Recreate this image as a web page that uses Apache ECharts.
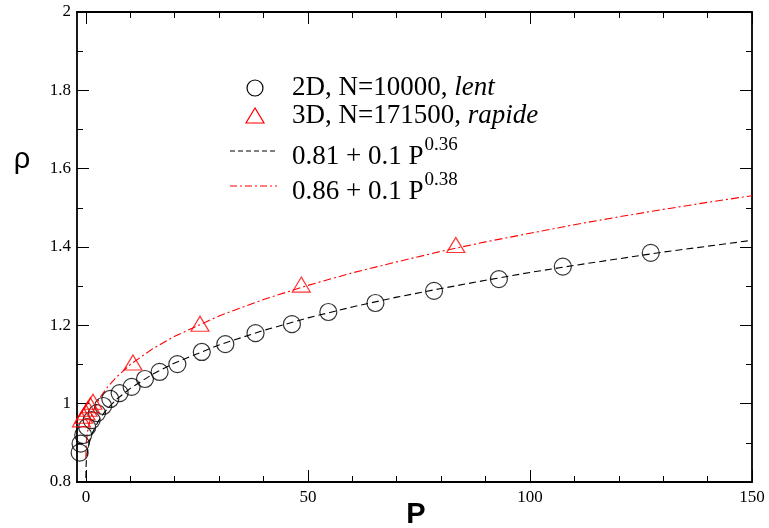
<!DOCTYPE html>
<html>
<head>
<meta charset="utf-8">
<script src="https://cdn.jsdelivr.net/npm/echarts@6/dist/echarts.min.js"></script>
<style>html,body{margin:0;padding:0;background:#fff;}#c{width:769px;height:528px;}</style>
</head>
<body>
<div id="c"></div>
<script>
// ---- data ----
const xMajorTicks = [0, 50, 100, 150];
const xMinorTicks = [10, 20, 30, 40, 60, 70, 80, 90, 110, 120, 130, 140];

const p2D   = [-1.4, -1.2, -0.6, 0.3, 1.3, 2.5, 3.9, 5.5, 7.6, 10.3, 13.3, 16.6, 20.6, 26.1, 31.4, 38.2, 46.4, 54.6, 65.2, 78.4, 93.0, 107.4, 127.2];
const rho2D = [0.875, 0.898, 0.92, 0.94, 0.958, 0.976, 0.994, 1.012, 1.027, 1.043, 1.063, 1.081, 1.101, 1.132, 1.152, 1.180, 1.203, 1.234, 1.257, 1.288, 1.318, 1.350, 1.385];

const p3D   = [-1.0, -0.5, 0.0, 0.5, 1.0, 1.6, 10.6, 25.7, 48.5, 83.3];
const rho3D = [0.96, 0.969, 0.978, 0.987, 0.996, 1.005, 1.105, 1.204, 1.304, 1.405];

const fitP    = [0, 0.02, 0.1, 0.3, 0.6, 1, 1.5, 2, 3, 4, 5, 7, 10, 15, 20, 30, 40, 50, 60, 70, 80, 90, 100, 110, 120, 130, 140, 150];
const fit2D   = [0.81, 0.834, 0.854, 0.875, 0.893, 0.91, 0.926, 0.938, 0.959, 0.975, 0.989, 1.012, 1.039, 1.075, 1.104, 1.150, 1.187, 1.219, 1.247, 1.272, 1.294, 1.315, 1.335, 1.353, 1.370, 1.387, 1.402, 1.417];
const fit3D   = [0.86, 0.883, 0.902, 0.923, 0.942, 0.96, 0.977, 0.990, 1.012, 1.029, 1.044, 1.069, 1.100, 1.140, 1.172, 1.224, 1.266, 1.302, 1.334, 1.362, 1.389, 1.413, 1.435, 1.457, 1.477, 1.496, 1.514, 1.531];

const legendLabels = ['2D, N=10000, ', 'lent', '3D, N=171500, ', 'rapide', '0.81 + 0.1 P', '0.36', '0.86 + 0.1 P', '0.38'];
const axisTitles = ['P', 'ρ'];

// ---- chart ----
const zip = (a, b) => a.map((v, i) => [v, b[i]]);
const SERIF = '"Liberation Serif", "Times New Roman", serif';
const SANS = '"Liberation Sans", Arial, sans-serif';
const legFont = 27, supFont = 19;

const mctx = document.createElement('canvas').getContext('2d');
mctx.font = legFont + 'px ' + SERIF;
const w3 = mctx.measureText(legendLabels[4]).width;
const w4 = mctx.measureText(legendLabels[6]).width;

const frameLine = { show: true, onZero: false, lineStyle: { color: '#000', width: 1.8 } };
const xBase = { type: 'value', min: -2, max: 150, splitLine: { show: false } };

const chart = echarts.init(document.getElementById('c'), null, { renderer: 'canvas' });
chart.setOption({
  animation: false,
  backgroundColor: '#fff',
  grid: { left: 77, right: 17, top: 12, bottom: 46, containLabel: false, outerBoundsMode: 'none' },
  xAxis: [
    Object.assign({}, xBase, {
      position: 'bottom', axisLine: frameLine,
      axisTick: { show: true, inside: true, length: 12, customValues: xMajorTicks, lineStyle: { color: '#000', width: 1 } },
      axisLabel: { show: true, customValues: xMajorTicks, margin: 7, color: '#000', fontFamily: SERIF, fontSize: 17 }
    }),
    Object.assign({}, xBase, {
      position: 'bottom', axisLine: { show: false },
      axisTick: { show: true, inside: true, length: 6, customValues: xMinorTicks, lineStyle: { color: '#000', width: 1 } },
      axisLabel: { show: false }
    }),
    Object.assign({}, xBase, {
      position: 'top', axisLine: frameLine,
      axisTick: { show: true, inside: true, length: 12, customValues: xMajorTicks, lineStyle: { color: '#000', width: 1 } },
      axisLabel: { show: false }
    }),
    Object.assign({}, xBase, {
      position: 'top', axisLine: { show: false },
      axisTick: { show: true, inside: true, length: 6, customValues: xMinorTicks, lineStyle: { color: '#000', width: 1 } },
      axisLabel: { show: false }
    })
  ],
  yAxis: [
    {
      type: 'value', min: 0.8, max: 2, interval: 0.2, position: 'left',
      axisLine: frameLine,
      axisTick: { show: true, inside: true, length: 12, lineStyle: { color: '#000', width: 1 } },
      minorTick: { show: true, splitNumber: 2, length: 6, lineStyle: { color: '#000', width: 1 } },
      axisLabel: { show: true, margin: 6, color: '#000', fontFamily: SERIF, fontSize: 17 },
      splitLine: { show: false }
    },
    {
      type: 'value', min: 0.8, max: 2, interval: 0.2, position: 'right',
      axisLine: frameLine,
      axisTick: { show: true, inside: true, length: 12, lineStyle: { color: '#000', width: 1 } },
      minorTick: { show: true, splitNumber: 2, length: 6, lineStyle: { color: '#000', width: 1 } },
      axisLabel: { show: false },
      splitLine: { show: false }
    }
  ],
  series: [
    {
      type: 'line', name: 'fit2D', data: zip(fitP, fit2D), showSymbol: false, symbol: 'none',
      lineStyle: { color: '#000', width: 1.1, type: [7, 4] }, clip: true, z: 2
    },
    {
      type: 'line', name: 'fit3D', data: zip(fitP, fit3D), showSymbol: false, symbol: 'none',
      lineStyle: { color: '#ff0000', width: 1.1, type: [8, 3, 2, 3] }, clip: true, z: 2
    },
    {
      type: 'scatter', name: '2D', data: zip(p2D, rho2D), symbol: 'circle', symbolSize: 17,
      itemStyle: { color: 'rgba(0,0,0,0)', borderColor: '#000', borderWidth: 1.2 }, clip: false, z: 3
    },
    {
      type: 'scatter', name: '3D', data: zip(p3D, rho3D), symbol: 'triangle', symbolSize: [18, 15],
      itemStyle: { color: 'rgba(0,0,0,0)', borderColor: '#ff0000', borderWidth: 1.2 }, clip: false, z: 3
    }
  ],
  graphic: [
    { type: 'text', x: 416, y: 515, style: { text: axisTitles[0], fill: '#000', font: 'bold 29px ' + SANS, align: 'center', verticalAlign: 'middle' } },
    { type: 'text', x: 22, y: 160, style: { text: axisTitles[1], fill: '#000', font: '29px ' + SANS, align: 'center', verticalAlign: 'middle' } },
    // legend
    { type: 'circle', shape: { cx: 255, cy: 88, r: 8 }, style: { fill: 'none', stroke: '#000', lineWidth: 1.2 } },
    { type: 'polygon', shape: { points: [[255, 108], [246, 123], [264, 123]] }, style: { fill: 'none', stroke: '#ff0000', lineWidth: 1.2 } },
    { type: 'line', shape: { x1: 230, y1: 151, x2: 277, y2: 151 }, style: { stroke: '#000', lineWidth: 1.1, lineDash: [5, 3] } },
    { type: 'line', shape: { x1: 230, y1: 186, x2: 277, y2: 186 }, style: { stroke: '#ff0000', lineWidth: 1.1, lineDash: [7, 3, 2, 3] } },
    { type: 'text', x: 292, y: 88, style: { text: '{a|' + legendLabels[0] + '}{i|' + legendLabels[1] + '}', verticalAlign: 'middle', rich: { a: { fontFamily: SERIF, fontSize: legFont, fill: '#000' }, i: { fontFamily: SERIF, fontSize: legFont, fontStyle: 'italic', fill: '#000' } } } },
    { type: 'text', x: 292, y: 116, style: { text: '{a|' + legendLabels[2] + '}{i|' + legendLabels[3] + '}', verticalAlign: 'middle', rich: { a: { fontFamily: SERIF, fontSize: legFont, fill: '#000' }, i: { fontFamily: SERIF, fontSize: legFont, fontStyle: 'italic', fill: '#000' } } } },
    { type: 'text', x: 292, y: 157, style: { text: legendLabels[4], verticalAlign: 'middle', font: legFont + 'px ' + SERIF, fill: '#000' } },
    { type: 'text', x: 292 + w3 + 1, y: 145, style: { text: legendLabels[5], verticalAlign: 'middle', font: supFont + 'px ' + SERIF, fill: '#000' } },
    { type: 'text', x: 292, y: 192, style: { text: legendLabels[6], verticalAlign: 'middle', font: legFont + 'px ' + SERIF, fill: '#000' } },
    { type: 'text', x: 292 + w4 + 1, y: 180, style: { text: legendLabels[7], verticalAlign: 'middle', font: supFont + 'px ' + SERIF, fill: '#000' } }
  ]
});
</script>
</body>
</html>
